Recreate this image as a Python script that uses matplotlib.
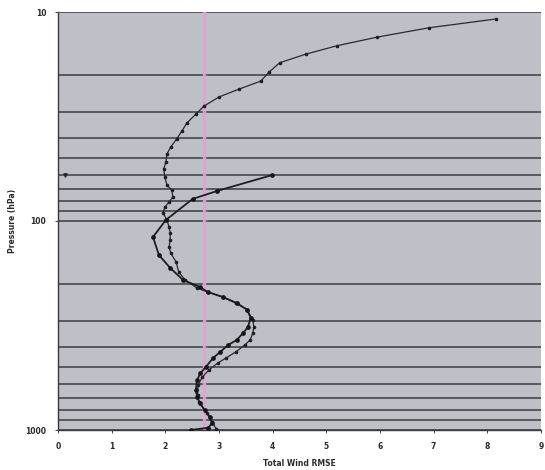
import matplotlib
matplotlib.use("Agg")
import matplotlib.pyplot as plt
from matplotlib.ticker import FixedLocator, NullFormatter, LogLocator

# Series A: full profile (10 hPa to surface), thin line with small markers
press_a = [10.8, 11.9, 13.2, 14.5, 15.9, 17.5, 19.4, 21.4, 23.4, 25.5, 28.2, 30.8,
           34.0, 37.1, 40.5, 44.3, 47.8, 52.2, 56.4, 61.5, 67.3, 71.1, 76.8, 81.1,
           85.7, 91.6, 98.9, 106.9, 114.1, 123.3, 133.1, 142.3, 157.1, 175.4, 191.6,
           209.2, 218.6, 231.0, 246.8, 265.3, 297.7, 321.6, 343.6, 371.0, 392.0,
           423.6, 452.6, 477.9, 516.3, 557.8, 609.2, 680.3, 735.0, 829.6, 916.0, 989.0]
rmse_a = [8.16, 6.91, 5.94, 5.20, 4.62, 4.13, 3.93, 3.78, 3.37, 3.00, 2.72, 2.57,
          2.40, 2.31, 2.21, 2.10, 2.03, 2.01, 1.97, 1.99, 2.03, 2.12, 2.14, 2.07,
          1.99, 1.96, 2.03, 2.07, 2.09, 2.09, 2.07, 2.10, 2.20, 2.25, 2.37,
          2.59, 2.79, 3.07, 3.31, 3.52, 3.63, 3.65, 3.63, 3.58, 3.48,
          3.31, 3.13, 2.98, 2.81, 2.69, 2.61, 2.60, 2.63, 2.77, 2.87, 2.95]

# Series B: profile from 60 hPa down, solid line with round markers
press_b = [60.4, 71.9, 78.4, 98.9, 119.2, 145.5, 167.6, 191.6, 206.6, 218.6, 231.0,
           246.8, 265.3, 290.0, 321.6, 343.6, 371.0, 392.0, 423.6, 452.6, 501.0,
           536.0, 579.0, 641.0, 694.0, 742.0, 801.0, 866.0, 928.0, 975.0, 1000.0]
rmse_b = [3.98, 2.96, 2.51, 2.01, 1.77, 1.88, 2.09, 2.33, 2.64, 2.79, 3.07,
          3.33, 3.52, 3.59, 3.54, 3.45, 3.33, 3.17, 3.02, 2.89, 2.75,
          2.65, 2.59, 2.57, 2.59, 2.64, 2.73, 2.83, 2.87, 2.80, 2.47]

# Stray single point near the left edge
press_c = [60.0]
rmse_c = [0.13]

ref_value = 2.72          # pink vertical reference line
x_ticks = [0, 1, 2, 3, 4, 5, 6, 7, 8, 9]
y_ticks = [10, 100, 1000]
y_ticklabels = ["10", "100", "1000"]

fig = plt.figure(figsize=(5.45, 4.70), dpi=100)
fig.patch.set_facecolor("white")
ax = fig.add_axes([58 / 545, 1 - 430 / 470, (541 - 58) / 545, (430 - 12) / 470])
ax.set_facecolor("#bec0c8")

ax.set_yscale("log")
ax.set_ylim(1000, 10)
ax.set_xlim(0, 9)

# horizontal grid lines at major and minor log levels
ax.yaxis.set_major_locator(FixedLocator(y_ticks))
ax.yaxis.set_minor_locator(LogLocator(base=10, subs=range(2, 10)))
ax.yaxis.set_minor_formatter(NullFormatter())
ax.set_yticklabels(y_ticklabels)
ax.grid(True, axis="y", which="both", color="#3c3c40", linewidth=1.1)
ax.set_axisbelow(True)
ax.tick_params(axis="y", which="minor", length=0)

ax.axvline(ref_value, color="#dba6d6", linewidth=2.5, alpha=0.9, zorder=2)

ax.plot(rmse_a, press_a, color="#2a2a2e", linewidth=0.9, marker="o",
        markersize=2.6, markerfacecolor="#1e1e22", markeredgewidth=0, zorder=4)
ax.plot(rmse_b, press_b, color="#1e1e22", linewidth=1.3, marker="o",
        markersize=3.4, markerfacecolor="#151518", markeredgewidth=0, zorder=5)
ax.plot(rmse_c, press_c, linestyle="none", marker="v", markersize=2.5,
        color="#2a2a2e", zorder=5)

ax.set_xticks(x_ticks)
ax.set_xticklabels([str(v) for v in x_ticks])
ax.tick_params(axis="both", which="major", labelsize=5.5, length=2.5,
               width=0.6, colors="#2a2a2a", pad=6)
for lab in ax.get_xticklabels() + ax.get_yticklabels():
    lab.set_fontweight("bold")

for side in ["top", "right"]:
    ax.spines[side].set_visible(False)
ax.spines["left"].set_color("#3a3a3a")
ax.spines["bottom"].set_color("#3a3a3a")
ax.spines["left"].set_linewidth(1.0)
ax.spines["bottom"].set_linewidth(1.0)

ax.set_xlabel("Total Wind RMSE", fontsize=5.5, fontweight="bold", color="#2a2a2a",
              labelpad=6)
ax.set_ylabel("Pressure (hPa)", fontsize=5.5, fontweight="bold", color="#2a2a2a")
ax.yaxis.set_label_coords(-0.085, 0.5)

fig.savefig("out.png", dpi=100)
